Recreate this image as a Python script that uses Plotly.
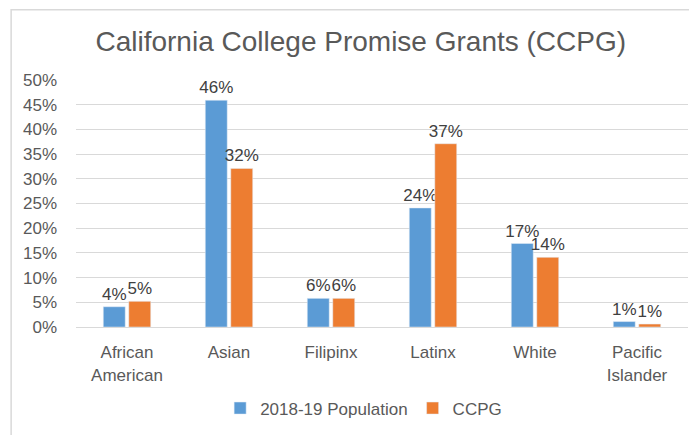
import plotly.graph_objects as go

categories = ["African<br>American", "Asian", "Filipinx", "Latinx", "White", "Pacific<br>Islander"]
population = [0.041, 0.459, 0.058, 0.241, 0.169, 0.011]
ccpg = [0.052, 0.321, 0.058, 0.371, 0.141, 0.006]
series_names = ["2018-19 Population", "CCPG"]
tick_vals = [0, 0.05, 0.10, 0.15, 0.20, 0.25, 0.30, 0.35, 0.40, 0.45, 0.50]

FONT = "Liberation Sans, Arial, sans-serif"
fig = go.Figure()
for name, vals, col in [(series_names[0], population, "#5B9BD5"), (series_names[1], ccpg, "#ED7D31")]:
    fig.add_trace(go.Bar(
        x=categories, y=vals, name=name, marker_color=col,
        texttemplate="%{y:.0%}", textposition="outside", constraintext="none",
        textfont=dict(family=FONT, size=17, color="#404040"),
        cliponaxis=False,
    ))

# page body has an 8px margin, so the figure is sized/offset to compensate
fig.update_layout(
    width=689, height=427,
    margin=dict(l=68, r=9, t=72, b=105),
    paper_bgcolor="white", plot_bgcolor="white",
    barmode="group", bargap=0.5, bargroupgap=0.14,
    title=dict(text="California College Promise Grants (CCPG)", x=0.512, xanchor="center",
               y=0.922, yanchor="middle",
               font=dict(family=FONT, size=28, color="#595959")),
    font=dict(family=FONT, color="#595959"),
    showlegend=True,
    legend=dict(orientation="h", x=0.47, xanchor="center", y=-0.33, yanchor="middle",
                font=dict(family=FONT, size=17, color="#595959"),
                itemwidth=30, traceorder="normal"),
    xaxis=dict(showline=True, linecolor="#d9d9d9", linewidth=1, ticks="",
               ticklabelstandoff=10,
               tickfont=dict(family=FONT, size=17, color="#595959")),
    yaxis=dict(range=[0, 0.5], tickvals=tick_vals, tickformat=".0%",
               showgrid=True, gridcolor="#d9d9d9", gridwidth=1, zeroline=False,
               ticks="", ticklabelstandoff=18,
               tickfont=dict(family=FONT, size=17, color="#595959")),
    shapes=[dict(type="rect", xref="paper", yref="paper", x0=-0.106, y0=-1.0, x1=2.0, y1=1.284,
                 line=dict(color="#d9d9d9", width=1.5), fillcolor="rgba(0,0,0,0)", layer="below")],
)

fig.write_html("out.html")
